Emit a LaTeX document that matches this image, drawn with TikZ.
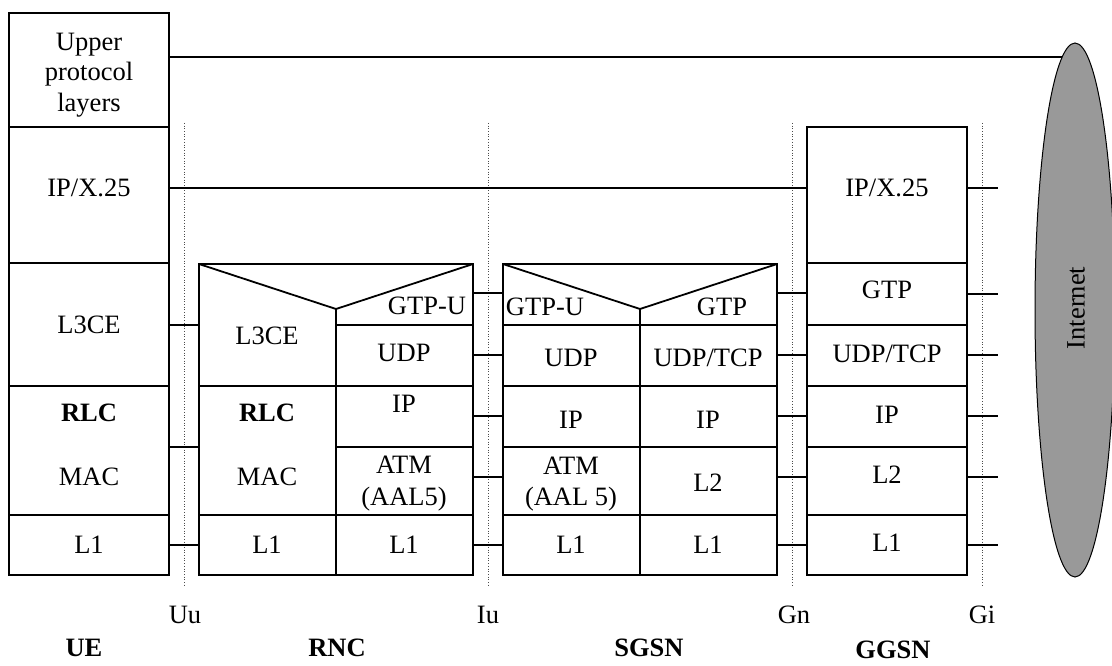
\documentclass[tikz,border=0pt]{standalone}
\usepackage{fontspec}
\setmainfont{Liberation Serif}
\usetikzlibrary{shapes.geometric}
\definecolor{cloudgrey}{RGB}{153,153,153}
\begin{document}
\begin{tikzpicture}[x=1pt,y=-1pt,
  font=\fontsize{26.5}{30.5}\selectfont,
  cell/.style={draw, line width=1.8pt, inner sep=0pt, outer sep=0pt, anchor=north west},
  area/.style={inner sep=0pt, outer sep=0pt, anchor=north west},
  frame/.style={line width=1.8pt, line join=miter},
  link/.style={line width=1.5pt},
  iface/.style={line width=0.7pt, dotted, black!70},
  lbl/.style={inner sep=0pt, text height=17pt, text depth=0pt, anchor=center},
  blbl/.style={lbl, font=\fontsize{26.5}{30.5}\selectfont\bfseries}]
\useasboundingbox (0,0) rectangle (1112,666);

% ---------------- UE ----------------
\node[cell, minimum width=160pt, minimum height=114pt] (ueUp) at (9,13) {};
\node[cell, minimum width=160pt, minimum height=136pt] (ueIP) at (9,127) {};
\node[cell, minimum width=160pt, minimum height=123pt] (ueL3) at (9,263) {};
\node[cell, minimum width=160pt, minimum height=129pt] (ueRM) at (9,386) {};
\node[cell, minimum width=160pt, minimum height=60pt]  (ueL1) at (9,515) {};

\node[inner sep=0pt, align=center] (tUp) at (89,75) {Upper\\protocol\\layers};
\node[lbl] (tueIP) at (89,188) {IP/X.25};
\node[lbl] (tueL3) at (89,325) {L3CE};
\node[blbl] (tueRLC) at (89,413) {RLC};
\node[lbl] (tueMAC) at (89,477) {MAC};
\node[lbl] (tueL1) at (89,545) {L1};

% ---------------- RNC ----------------
\node[area, minimum width=137pt, minimum height=122pt] (rncL3) at (199,264) {};
\node[area, minimum width=137pt, minimum height=61pt] (rncGTP) at (336,264) {};
\node[cell, minimum width=137pt, minimum height=129pt] (rncRM) at (199,386) {};
\node[cell, minimum width=137pt, minimum height=60pt]  (rncL1a) at (199,515) {};
\node[cell, minimum width=137pt, minimum height=61pt]  (rncUDP) at (336,325) {};
\node[cell, minimum width=137pt, minimum height=61pt]  (rncIP) at (336,386) {};
\node[cell, minimum width=137pt, minimum height=68pt]  (rncATM) at (336,447) {};
\node[cell, minimum width=137pt, minimum height=60pt]  (rncL1b) at (336,515) {};
\draw[frame] (rncRM.north west) -- (rncL3.north west) -- (rncGTP.north east) -- (rncUDP.north east);
\draw[frame] (rncL3.north west) -- (336,309) -- (rncGTP.north east);
\draw[frame] (336,309) -- (rncUDP.north west);

\node[lbl] (trncL3) at (267,336) {L3CE};
\node[blbl] (trncRLC) at (267,413) {RLC};
\node[lbl] (trncMAC) at (267,477) {MAC};
\node[lbl] (trncL1a) at (267,545) {L1};
\node[lbl] (trncGTP) at (427,306) {GTP-U};
\node[lbl] (trncUDP) at (404,353) {UDP};
\node[lbl] (trncIP) at (404,404) {IP};
\node[lbl] (trncATM) at (404,465) {ATM};
\node[lbl] (trncAAL) at (404,497) {(AAL5)};
\node[lbl] (trncL1b) at (404,545) {L1};

% ---------------- SGSN ----------------
\node[area, minimum width=137pt, minimum height=61pt] (sgGTPU) at (503,264) {};
\node[area, minimum width=137pt, minimum height=61pt] (sgGTP) at (640,264) {};
\node[cell, minimum width=137pt, minimum height=61pt] (sgUDP) at (503,325) {};
\node[cell, minimum width=137pt, minimum height=61pt] (sgIP) at (503,386) {};
\node[cell, minimum width=137pt, minimum height=68pt] (sgATM) at (503,447) {};
\node[cell, minimum width=137pt, minimum height=60pt] (sgL1a) at (503,515) {};
\node[cell, minimum width=137pt, minimum height=61pt] (sgTCP) at (640,325) {};
\node[cell, minimum width=137pt, minimum height=61pt] (sgIPb) at (640,386) {};
\node[cell, minimum width=137pt, minimum height=68pt] (sgL2) at (640,447) {};
\node[cell, minimum width=137pt, minimum height=60pt] (sgL1b) at (640,515) {};
\draw[frame] (sgUDP.north west) -- (sgGTPU.north west) -- (sgGTP.north east) -- (sgTCP.north east);
\draw[frame] (sgGTPU.north west) -- (640,309) -- (sgGTP.north east);
\draw[frame] (640,309) -- (sgTCP.north west);

\node[lbl] (tsgGTPU) at (545,307) {GTP-U};
\node[lbl] (tsgGTP) at (722,307) {GTP};
\node[lbl] (tsgUDP) at (571,358) {UDP};
\node[lbl] (tsgTCP) at (708,358) {UDP/TCP};
\node[lbl] (tsgIP) at (571,420) {IP};
\node[lbl] (tsgIPb) at (708,420) {IP};
\node[lbl] (tsgATM) at (571,466) {ATM};
\node[lbl] (tsgAAL) at (571,497) {(AAL 5)};
\node[lbl] (tsgL2) at (708,483) {L2};
\node[lbl] (tsgL1a) at (571,545) {L1};
\node[lbl] (tsgL1b) at (708,545) {L1};

% ---------------- GGSN ----------------
\node[cell, minimum width=160pt, minimum height=136pt] (ggIP) at (807,127) {};
\node[cell, minimum width=160pt, minimum height=62pt]  (ggGTP) at (807,263) {};
\node[cell, minimum width=160pt, minimum height=61pt]  (ggUDP) at (807,325) {};
\node[cell, minimum width=160pt, minimum height=61pt]  (ggIPb) at (807,386) {};
\node[cell, minimum width=160pt, minimum height=68pt]  (ggL2) at (807,447) {};
\node[cell, minimum width=160pt, minimum height=60pt]  (ggL1) at (807,515) {};

\node[lbl] (tggIP) at (887,188) {IP/X.25};
\node[lbl] (tggGTP) at (887,290) {GTP};
\node[lbl] (tggUDP) at (887,354) {UDP/TCP};
\node[lbl] (tggIPb) at (887,415) {IP};
\node[lbl] (tggL2) at (887,475) {L2};
\node[lbl] (tggL1) at (887,543) {L1};

% ---------------- Internet ----------------
\node[ellipse, draw, fill=cloudgrey, line width=1pt, inner sep=0pt,
      minimum width=80pt, minimum height=534pt] (inet) at (1075,310) {};
\node[inner sep=0pt, rotate=90, font=\fontsize{26.5}{30}\selectfont] (tinet) at (1076,308) {Internet};

% ---------------- interfaces ----------------
\draw[iface] (184,123) -- (184,586);
\draw[iface] (488,123) -- (488,586);
\draw[iface] (792,123) -- (792,586);
\draw[iface] (982,123) -- (982,586);

% ---------------- connectors ----------------
\coordinate (giEnd) at (998,0);
\draw[link] (ueUp.east |- inet.93.75) -- (inet.93.75);
\draw[link] (ueIP.east |- 0,188) -- (ggIP.west |- 0,188);

\draw[link] (ueL3.east |- 0,325) -- (rncL3.west |- 0,325);
\draw[link] (ueRM.east |- 0,447) -- (rncRM.west |- 0,447);
\draw[link] (ueL1.east |- 0,545) -- (rncL1a.west |- 0,545);

\draw[link] (rncGTP.east |- 0,293) -- (sgGTPU.west |- 0,293);
\draw[link] (rncUDP.east |- 0,355) -- (sgUDP.west |- 0,355);
\draw[link] (rncIP.east |- 0,416) -- (sgIP.west |- 0,416);
\draw[link] (rncATM.east |- 0,477) -- (sgATM.west |- 0,477);
\draw[link] (rncL1b.east |- 0,545) -- (sgL1a.west |- 0,545);

\draw[link] (sgGTP.east |- 0,293) -- (ggGTP.west |- 0,293);
\draw[link] (sgTCP.east |- 0,355) -- (ggUDP.west |- 0,355);
\draw[link] (sgIPb.east |- 0,416) -- (ggIPb.west |- 0,416);
\draw[link] (sgL2.east |- 0,477) -- (ggL2.west |- 0,477);
\draw[link] (sgL1b.east |- 0,545) -- (ggL1.west |- 0,545);

\draw[link] (ggIP.east |- 0,188) -- (giEnd |- 0,188);
\draw[link] (ggGTP.east |- 0,294) -- (giEnd |- 0,294);
\draw[link] (ggUDP.east |- 0,355) -- (giEnd |- 0,355);
\draw[link] (ggIPb.east |- 0,416) -- (giEnd |- 0,416);
\draw[link] (ggL2.east |- 0,477) -- (giEnd |- 0,477);
\draw[link] (ggL1.east |- 0,545) -- (giEnd |- 0,545);

% ---------------- labels ----------------
\node[lbl] (lUu) at (185,615) {Uu};
\node[lbl] (lIu) at (488,615) {Iu};
\node[lbl] (lGn) at (794,615) {Gn};
\node[lbl] (lGi) at (982,615) {Gi};
\node[blbl] (lUE) at (84,648) {UE};
\node[blbl] (lRNC) at (337,648) {RNC};
\node[blbl] (lSGSN) at (649,648) {SGSN};
\node[blbl] (lGGSN) at (893,650) {GGSN};
\end{tikzpicture}
\end{document}
